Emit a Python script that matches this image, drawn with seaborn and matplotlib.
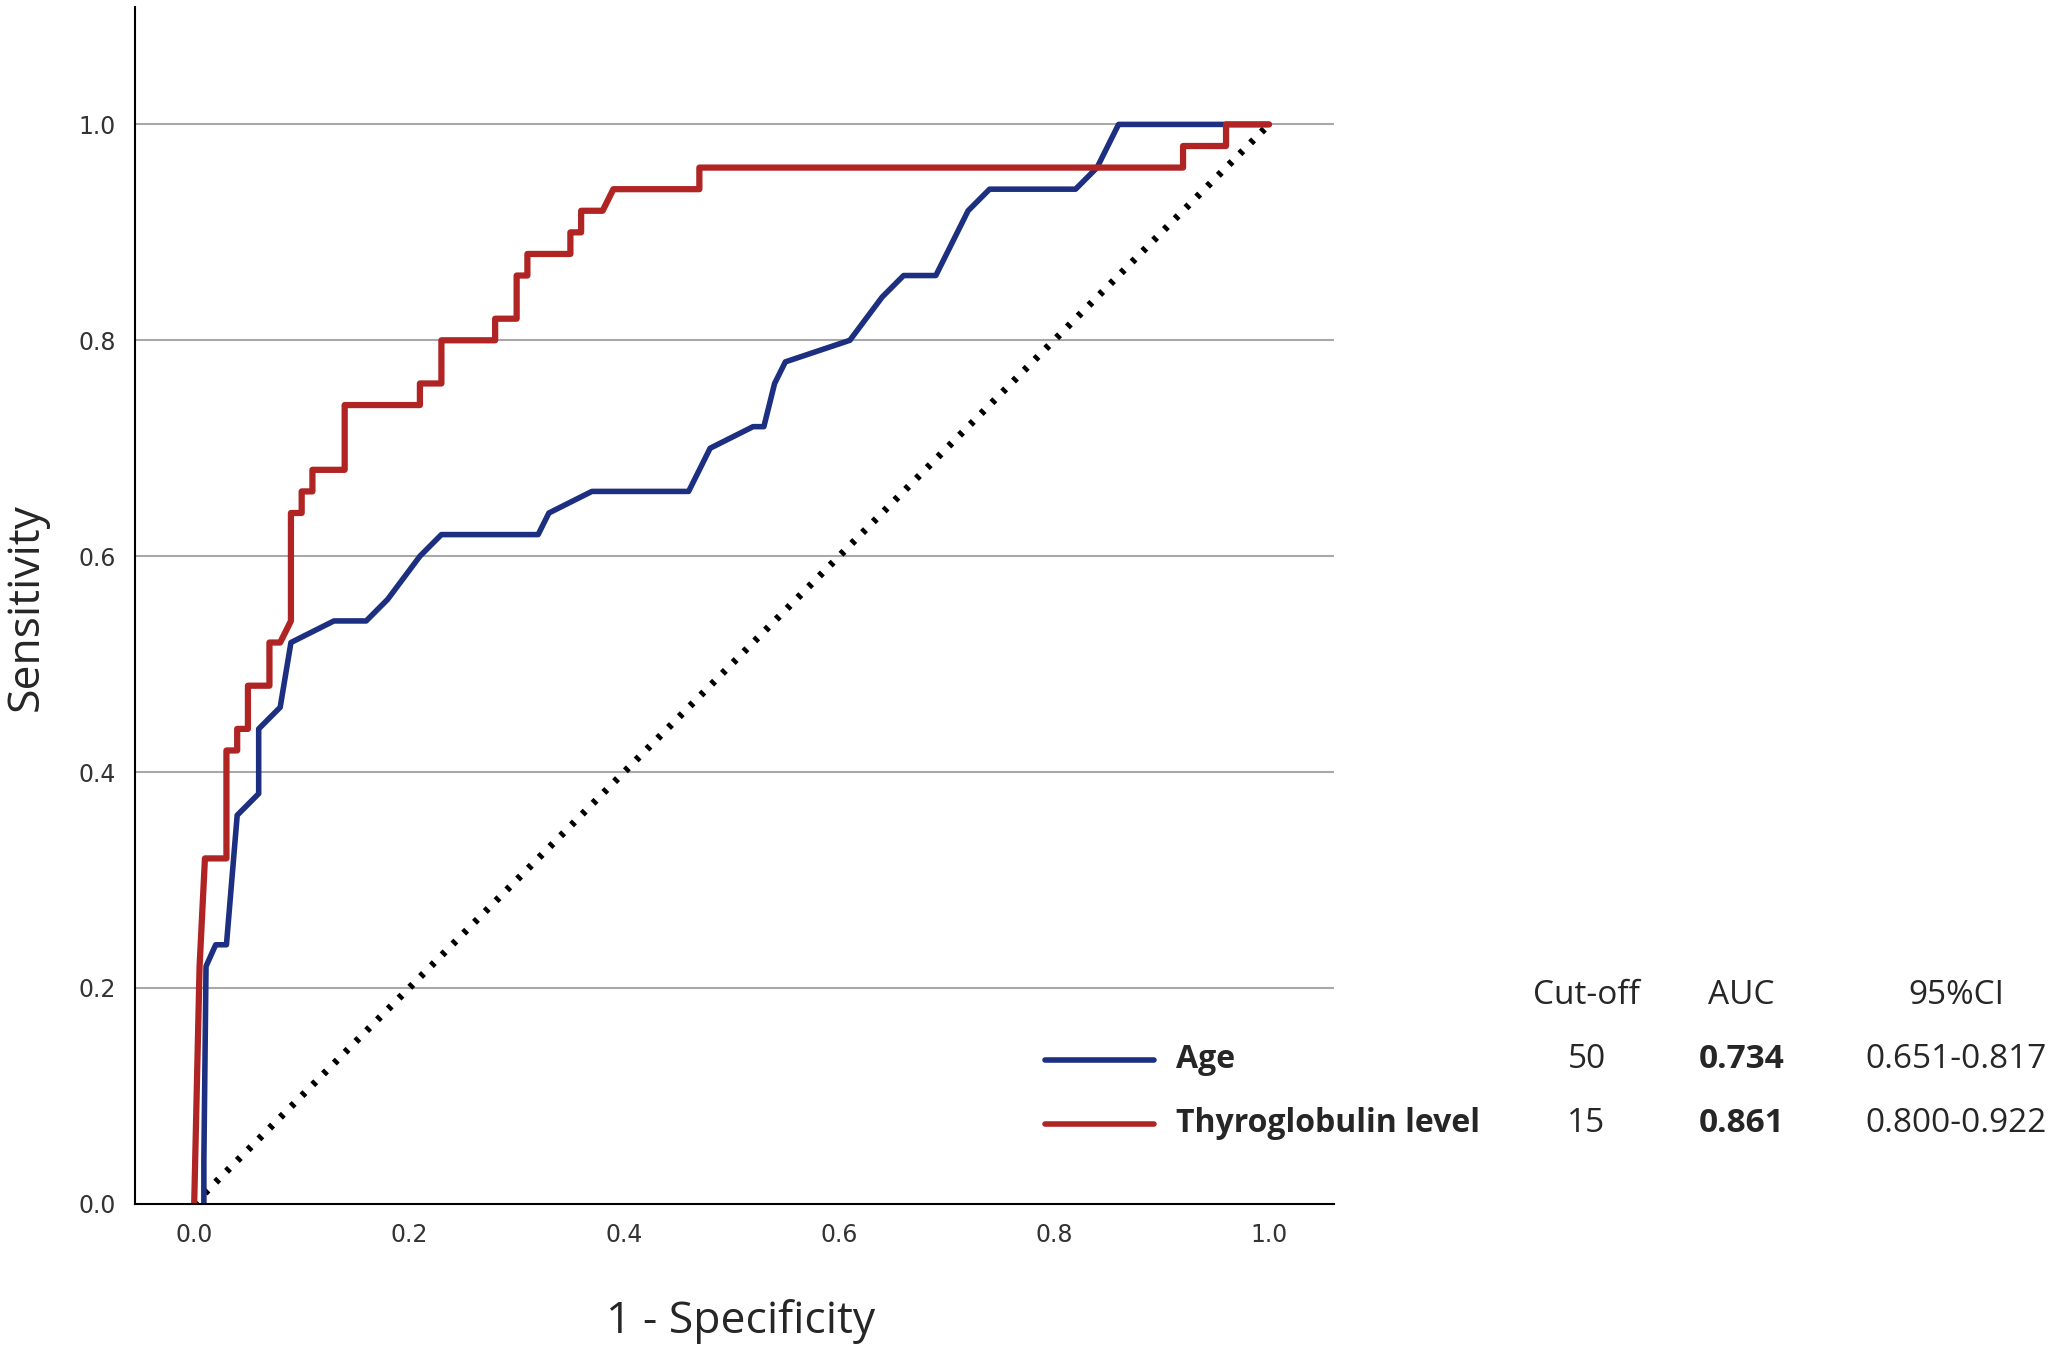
import matplotlib
matplotlib.use("Agg")
import matplotlib.pyplot as plt
import seaborn as sns
import pandas as pd

age_x = [0.009,0.009,0.011,0.02,0.03,0.04,0.05,0.06,0.06,0.08,0.09,0.11,0.13,0.16,0.18,0.21,0.23,0.32,0.33,0.37,0.46,0.48,0.52,0.53,0.54,0.55,0.61,0.64,0.66,0.69,0.72,0.74,0.82,0.84,0.85,0.86,1.0]
age_y = [0.0,0.04,0.22,0.24,0.24,0.36,0.37,0.38,0.44,0.46,0.52,0.53,0.54,0.54,0.56,0.60,0.62,0.62,0.64,0.66,0.66,0.70,0.72,0.72,0.76,0.78,0.80,0.84,0.86,0.86,0.92,0.94,0.94,0.96,0.98,1.0,1.0]
tg_x = [0.0,0.005,0.01,0.03,0.03,0.04,0.04,0.05,0.05,0.07,0.07,0.08,0.09,0.09,0.10,0.10,0.11,0.11,0.14,0.14,0.21,0.21,0.23,0.23,0.28,0.28,0.30,0.30,0.31,0.31,0.35,0.35,0.36,0.36,0.38,0.39,0.47,0.47,0.92,0.92,0.96,0.96,1.0]
tg_y = [0.0,0.22,0.32,0.32,0.42,0.42,0.44,0.44,0.48,0.48,0.52,0.52,0.54,0.64,0.64,0.66,0.66,0.68,0.68,0.74,0.74,0.76,0.76,0.80,0.80,0.82,0.82,0.86,0.86,0.88,0.88,0.90,0.90,0.92,0.92,0.94,0.94,0.96,0.96,0.98,0.98,1.0,1.0]
diag = [0.0, 1.0]
ticks = [0.0, 0.2, 0.4, 0.6, 0.8, 1.0]
series = ["Age", "Thyroglobulin level"]
cutoffs = ["50", "15"]
aucs = ["0.734", "0.861"]
cis = ["0.651-0.817", "0.800-0.922"]

sns.set_style("white")
plt.rcParams['font.family'] = ['Open Sans', 'DejaVu Sans']
BLUE = "#1c2f80"
RED = "#b02424"

fig = plt.figure(figsize=(20.56, 13.52), dpi=100)
ax = fig.add_axes([0.0657, 0.1096, 0.5829, 0.8854])
for t in ticks[1:]:
    ax.axhline(t, color="#a8a8a8", lw=1.5, zorder=0)
sns.lineplot(x=diag, y=diag, ax=ax, color="black", lw=5, linestyle=(0, (0.6, 1.6)), sort=False, estimator=None)
sns.lineplot(data=pd.DataFrame({"x": age_x, "y": age_y}), x="x", y="y", ax=ax, color=BLUE, lw=4, sort=False, estimator=None)
sns.lineplot(data=pd.DataFrame({"x": tg_x, "y": tg_y}), x="x", y="y", ax=ax, color=RED, lw=4.5, sort=False, estimator=None)
ax.set_xlim(-0.055, 1.06)
ax.set_ylim(0, 1.109)
ax.set_xticks(ticks)
ax.set_yticks(ticks)
ax.set_xticklabels([f"{t:.1f}" for t in ticks], fontsize=17, family="DejaVu Sans", color="#333333")
ax.set_yticklabels([f"{t:.1f}" for t in ticks], fontsize=17, family="DejaVu Sans", color="#333333")
ax.tick_params(length=0, pad=14)
for s in ["top", "right"]:
    ax.spines[s].set_visible(False)
for s in ["left", "bottom"]:
    ax.spines[s].set_color("black"); ax.spines[s].set_linewidth(1.5)
ax.set_xlabel("")
ax.set_ylabel("")
fig.text(565/1568, 1 - 1008/1031, "1 - Specificity", fontsize=32, ha="center", va="center")
fig.text(20/1568, 1 - 463/1031, "Sensitivity", fontsize=32, ha="center", va="center", rotation=90)

fs = 24
def fy(p): return 1 - p/1031
def fx(p): return p/1568
fig.text(fx(1210), fy(759), "Cut-off", fontsize=fs, ha="center", va="center")
fig.text(fx(1328), fy(759), "AUC", fontsize=fs, ha="center", va="center")
fig.text(fx(1492), fy(759), "95%CI", fontsize=fs, ha="center", va="center")
for i, (name, col, yy) in enumerate(zip(series, [BLUE, RED], [808, 857])):
    fig.add_artist(plt.Line2D([fx(797), fx(880)], [fy(yy), fy(yy)], color=col, lw=4, transform=fig.transFigure))
    fig.text(fx(897), fy(yy), name, fontsize=fs - 1, fontweight="bold", ha="left", va="center")
    fig.text(fx(1210), fy(yy), cutoffs[i], fontsize=fs, ha="center", va="center")
    fig.text(fx(1328), fy(yy), aucs[i], fontsize=fs, fontweight="bold", ha="center", va="center")
    fig.text(fx(1492), fy(yy), cis[i], fontsize=fs, ha="center", va="center")

fig.savefig("out.png", dpi=100, facecolor="white")
